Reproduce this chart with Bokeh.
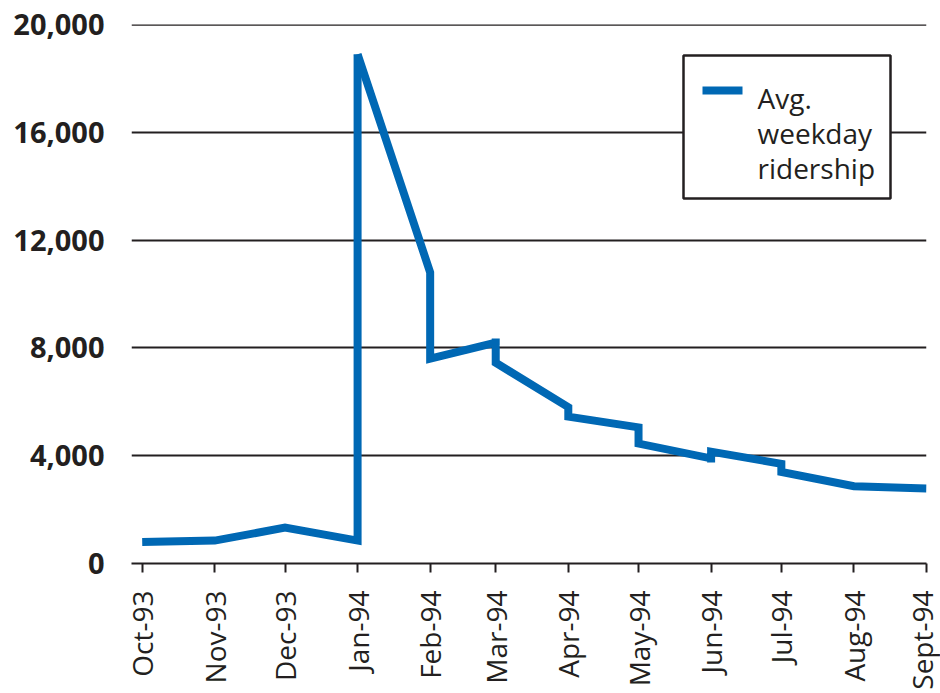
import math
import pandas as pd
from bokeh.plotting import figure
from bokeh.models import FixedTicker, Range1d, BoxAnnotation, Label, Span
from bokeh.embed import file_html
from bokeh.resources import INLINE

# ---- data ----
dates = ["1993-10-01", "1993-11-01", "1993-12-01", "1994-01-01", "1994-01-01",
         "1994-02-01", "1994-02-01", "1994-03-01", "1994-03-01", "1994-03-01",
         "1994-04-01", "1994-04-01", "1994-05-01", "1994-05-01", "1994-06-01",
         "1994-06-01", "1994-06-01", "1994-07-01", "1994-07-01", "1994-08-01",
         "1994-09-01"]
ridership = [800, 850, 1330, 850, 18900,
             10800, 7600, 8200, 8350, 7450,
             5800, 5450, 5050, 4450, 3900,
             3750, 4150, 3700, 3400, 2870,
             2780]

tick_dates = ["1993-10-01", "1993-11-01", "1993-12-01", "1994-01-01", "1994-02-01",
              "1994-03-01", "1994-04-01", "1994-05-01", "1994-06-01", "1994-07-01",
              "1994-08-01", "1994-09-01"]
tick_labels = ["Oct-93", "Nov-93", "Dec-93", "Jan-94", "Feb-94", "Mar-94",
               "Apr-94", "May-94", "Jun-94", "Jul-94", "Aug-94", "Sept-94"]
y_ticks = [0, 4000, 8000, 12000, 16000, 20000]
y_tick_labels = ["0", "4,000", "8,000", "12,000", "16,000", "20,000"]
legend_lines = ["Avg.", "weekday", "ridership"]

origin = pd.Timestamp(tick_dates[0])
xs = [(pd.Timestamp(d) - origin).days for d in dates]
txs = [(pd.Timestamp(d) - origin).days for d in tick_dates]

TEXT = "#231f20"
BLUE = "#0068b4"

# frame geometry (page pixels) and ranges
FR_L, FR_R, FR_T, FR_B = 131, 926, 24, 563
X0, X1 = -4.57, txs[-1]
Y0, Y1 = 0, 20000
W, H = 940, 693


def dx(px):
    return X0 + (px - FR_L) / (FR_R - FR_L) * (X1 - X0)


def dy(py):
    return Y0 + (FR_B - py) / (FR_B - FR_T) * (Y1 - Y0)


p = figure(width=W, height=H, output_backend="svg", toolbar_location=None,
           x_range=Range1d(X0, X1), y_range=Range1d(Y0, Y1),
           min_border_left=FR_L, min_border_top=FR_T,
           min_border_right=W - FR_R, min_border_bottom=H - FR_B)
p.outline_line_color = None
p.background_fill_color = "white"

# series (split at the peak so the sharp turn is not mitered into a spike)
peak = ridership.index(max(ridership))
p.line(xs[:peak + 1], ridership[:peak + 1], line_color=BLUE, line_width=8,
       line_join="miter", line_cap="butt")
p.line(xs[peak:], ridership[peak:], line_color=BLUE, line_width=8,
       line_join="miter", line_cap="butt")

# grid
p.xgrid.grid_line_color = None
p.ygrid.ticker = FixedTicker(ticks=y_ticks[1:])
p.ygrid.grid_line_color = TEXT
p.ygrid.grid_line_width = 2
# top gridline sits on the frame edge; draw it explicitly so it is not clipped
top_line = Span(location=y_ticks[-1], dimension="width", line_color=TEXT,
                line_width=2.5, level="underlay")
p.add_layout(top_line)

# y axis
p.yaxis.ticker = FixedTicker(ticks=y_ticks)
p.yaxis.major_label_overrides = {t: l for t, l in zip(y_ticks, y_tick_labels)}
p.yaxis.axis_line_color = None
p.yaxis.major_tick_line_color = None
p.yaxis.minor_tick_line_color = None
p.yaxis.major_tick_out = 0
p.yaxis.major_tick_in = 0
p.yaxis.major_label_standoff = 27
p.yaxis.major_label_text_font = "Open Sans"
p.yaxis.major_label_text_font_style = "bold"
p.yaxis.major_label_text_font_size = "29px"
p.yaxis.major_label_text_color = TEXT

# x axis
p.xaxis.ticker = FixedTicker(ticks=txs)
p.xaxis.major_label_overrides = {t: l for t, l in zip(txs, tick_labels)}
p.xaxis.major_label_orientation = math.pi / 2
p.xaxis.axis_line_color = TEXT
p.xaxis.axis_line_width = 2
p.xaxis.major_tick_line_color = TEXT
p.xaxis.major_tick_line_width = 2
p.xaxis.major_tick_in = 0
p.xaxis.major_tick_out = 9
p.xaxis.minor_tick_line_color = None
p.xaxis.major_label_standoff = 18
p.xaxis.major_label_text_font = "Open Sans"
p.xaxis.major_label_text_font_size = "28px"
p.xaxis.major_label_text_color = TEXT

# legend (drawn as annotations so the swatch sits on the first text line)
box = BoxAnnotation(left=dx(683), right=dx(890), top=dy(55), bottom=dy(198),
                    fill_color="white", fill_alpha=1.0,
                    line_color=TEXT, line_width=2.5, line_alpha=1.0)
p.add_layout(box)
sw = p.segment(x0=[dx(702)], y0=[dy(90)], x1=[dx(742)], y1=[dy(90)],
               line_color=BLUE, line_width=8, line_cap="butt")
sw.level = "overlay"
for i, txt in enumerate(legend_lines):
    lab = Label(x=dx(757), y=dy(97 + 35 * i), text=txt,
                text_font="Open Sans", text_font_size="28px",
                text_color=TEXT, text_baseline="alphabetic", text_align="left")
    lab.level = "overlay"
    p.add_layout(lab)

open("out.html", "w").write(file_html(p, INLINE))
